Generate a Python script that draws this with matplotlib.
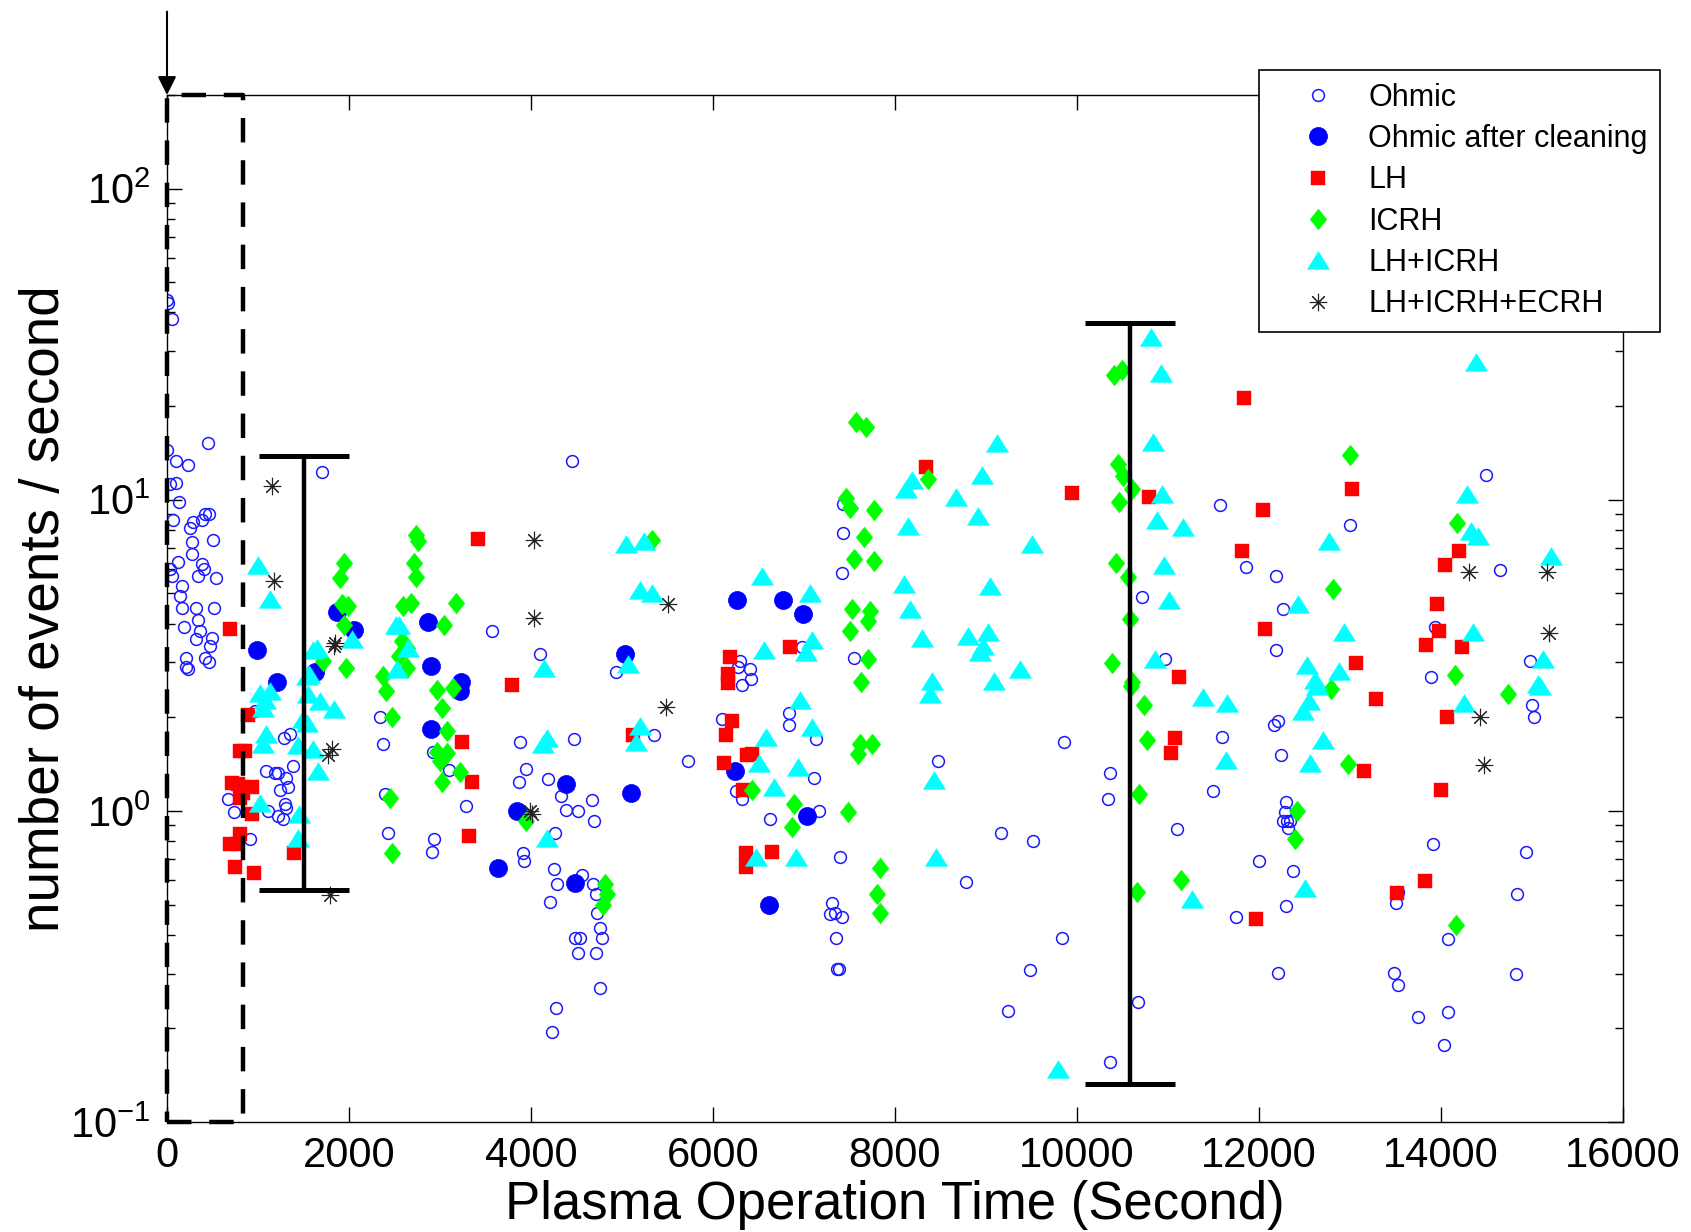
import matplotlib
matplotlib.use("Agg")
import matplotlib.pyplot as plt
from matplotlib.path import Path
from matplotlib.ticker import FixedLocator, NullFormatter, LogLocator

plt.rcParams['font.family'] = ['Liberation Sans', 'DejaVu Sans']
plt.rcParams['mathtext.fontset'] = 'custom'
plt.rcParams['mathtext.rm'] = 'Liberation Sans'
plt.rcParams['mathtext.it'] = 'Liberation Sans:italic'
plt.rcParams['mathtext.bf'] = 'Liberation Sans:bold'
plt.rcParams['axes.unicode_minus'] = False

# ---------------- data ----------------
ohmic_x = [0, 10, 60, 0, 450, 100, 230, 30, 100, 135, 70, 250, 290, 390, 420, 460, 510, 270, 270, 120,
           30, 50, 380, 410, 340, 535, 160, 140, 160, 320, 515, 340, 190, 360, 315, 490, 470, 420, 465, 210,
           210, 235,
           1700, 4450, 3570, 4100, 2340, 2370, 3880, 4470, 2920, 3100, 1090, 1190, 1220, 1310, 1350, 1290,
           1380, 1330, 1240, 670, 740, 1300, 1310, 1110, 1220, 1270, 910, 970, 3290, 2425, 2400, 2935, 2915,
           3945, 3870, 4190, 4330, 4385, 4520, 4670, 4690, 4260, 3910, 3920, 4250, 4290, 4560, 4680, 4710,
           4210, 4720, 4760, 4480, 4540, 4780, 4520, 4710, 4760, 4270, 4230,
           4930, 5350, 5720, 6300, 6280, 6410, 6415, 6320, 6975, 6095, 6830, 6830, 7130, 7110, 6250, 6320,
           6630, 7160, 7400, 7310, 7290, 7340, 7420, 7430, 7415, 7550, 8470, 9860, 9170, 9520, 8780, 7425,
           7350, 7360, 7380, 9830, 9480, 9240, 10360, 10670,
           11750, 12300, 12210, 13530, 13505, 13480, 13530, 14080, 13745, 14080, 14030, 14840, 14825,
           14490, 11570, 12995, 11860, 12190, 14650, 10720, 12260, 12190, 13930, 10970, 13890, 14975, 15005,
           15025, 12210, 12165, 11590, 12240, 11500, 10365, 10345, 12300, 12265, 12305, 12340, 12290, 12320,
           11100, 13910, 14930, 11995, 12370]
ohmic_y = [44, 43, 38, 14.5, 15.2, 13.3, 12.9, 11.2, 11.3, 9.8, 8.6, 8.1, 8.5, 8.6, 9.0, 9.0, 7.4, 7.3, 6.7, 6.3,
           6.0, 5.7, 6.2, 6.0, 5.7, 5.6, 5.3, 4.9, 4.5, 4.5, 4.5, 4.1, 3.9, 3.8, 3.56, 3.6, 3.4, 3.1, 3.0, 3.1,
           2.9, 2.85,
           12.3, 13.3, 3.8, 3.2, 2.0, 1.64, 1.67, 1.7, 1.55, 1.35, 1.34, 1.32, 1.32, 1.28, 1.77, 1.72,
           1.39, 1.19, 1.17, 1.09, 0.99, 1.05, 1.02, 1.0, 0.96, 0.94, 0.81, 2.1, 1.04, 0.85, 1.13, 0.81, 0.74,
           1.36, 1.24, 1.27, 1.12, 1.01, 1.0, 1.08, 0.93, 0.85, 0.73, 0.69, 0.65, 0.58, 0.62, 0.58, 0.54,
           0.51, 0.47, 0.42, 0.39, 0.39, 0.39, 0.35, 0.35, 0.27, 0.232, 0.195,
           2.8, 1.75, 1.45, 3.04, 2.9, 2.86, 2.66, 2.53, 3.36, 1.98, 2.06, 1.89, 1.70, 1.28, 1.16, 1.09,
           0.94, 1.0, 0.71, 0.506, 0.466, 0.47, 0.457, 7.8, 5.8, 3.1, 1.45, 1.66, 0.85, 0.80, 0.59, 9.7,
           0.39, 0.31, 0.31, 0.39, 0.307, 0.228, 0.156, 0.243,
           0.457, 0.493, 0.302, 0.547, 0.506, 0.302, 0.275, 0.388, 0.218, 0.225, 0.177, 0.54, 0.298,
           12.0, 9.6, 8.3, 6.1, 5.7, 5.95, 4.87, 4.44, 3.3, 3.9, 3.07, 2.7, 3.03, 2.19,
           2.0, 1.95, 1.89, 1.73, 1.51, 1.16, 1.32, 1.09, 1.07, 0.93, 0.93, 0.93, 0.99, 0.88,
           0.875, 0.78, 0.74, 0.69, 0.64]

clean_x = [985, 1205, 1865, 2055, 1626, 2872, 2898, 3227, 3220, 2898, 4385, 3843, 3641, 4484, 5033, 5095,
           6260, 6766, 6985, 6242, 7029, 6616]
clean_y = [3.29, 2.6, 4.35, 3.81, 2.8, 4.05, 2.92, 2.6, 2.43, 1.83, 1.22, 1.0, 0.655, 0.585, 3.2, 1.14,
           4.76, 4.76, 4.3, 1.34, 0.96, 0.50]

lh_x = [692, 894, 857, 802, 711, 784, 930, 839, 802, 930, 802, 692, 773, 747, 956, 1399, 3421, 3245, 3795,
        3355, 3319,
        6187, 6168, 6168, 6846, 6212, 6143, 6425, 6370, 6124, 6326, 5117, 6362, 6648, 6362, 8341, 9949,
        11834, 10791, 13019, 12040, 11817, 14197, 14046, 13954, 12062, 13975, 13840, 14228, 13062, 11123,
        13289, 14065, 11077, 11035, 13155, 13999, 13823, 13512, 11967]
lh_y = [3.83, 2.03, 1.56, 1.56, 1.23, 1.22, 1.19, 1.14, 1.10, 0.975, 0.84, 0.78, 0.78, 0.66, 0.63, 0.73, 7.5,
        1.66, 2.54, 1.24, 0.83,
        3.12, 2.76, 2.57, 3.36, 1.94, 1.75, 1.52, 1.51, 1.43, 1.165, 1.75, 0.73, 0.74, 0.66, 12.7, 10.5,
        21.3, 10.2, 10.8, 9.3, 6.83, 6.83, 6.15, 4.64, 3.84, 3.79, 3.42, 3.36, 2.98, 2.69,
        2.29, 2.0, 1.72, 1.53, 1.34, 1.17, 0.597, 0.545, 0.45]

icrh_x = [2733, 2762, 1945, 1901, 2718, 2733, 1927, 1993, 2597, 2678, 3176, 1945, 3044, 2586, 2634, 1718,
          1964, 2553, 2634, 2377, 2407, 2970, 3139, 3018, 3073, 2970, 3073, 3000, 3220, 3018, 2469, 2451,
          2469, 3945,
          7571, 7681, 10407, 10491, 5334, 7461, 7505, 7769, 8359, 7659, 7549, 7773, 7531, 7725, 7706, 7505,
          7706, 7626, 7615, 7744, 7597, 6425, 6890, 6865, 7480, 7835, 7799, 7835, 4813, 4832, 4795,
          10454, 10506, 10610, 10463, 10430, 10559, 10581, 10387, 10610, 10589, 10741, 10766, 10682, 11144,
          10661, 12998, 14175, 12818, 14155, 14740, 12797, 12978, 12419, 12393, 14170]
icrh_y = [7.7, 7.35, 6.27, 5.6, 6.27, 5.63, 4.62, 4.55, 4.55, 4.66, 4.66, 3.97, 3.95, 3.51, 3.34, 3.03,
          2.87, 3.14, 2.88, 2.71, 2.43, 2.44, 2.49, 2.14, 1.80, 1.55, 1.53, 1.45, 1.33, 1.24, 2.0, 1.10,
          0.73, 0.93,
          17.8, 17.1, 25.2, 26.2, 7.4, 10.1, 9.4, 9.3, 11.7, 7.57, 6.45, 6.34, 4.46, 4.4, 4.07, 3.78,
          3.08, 2.6, 1.64, 1.64, 1.52, 1.17, 1.05, 0.89, 0.99, 0.653, 0.54, 0.47, 0.58, 0.54, 0.50,
          13.0, 11.96, 10.8, 9.8, 6.24, 5.65, 4.14, 2.99, 2.6, 2.52, 2.19, 1.69, 1.13, 0.60,
          0.55, 13.9, 8.44, 5.16, 2.74, 2.37, 2.47, 1.41, 1.0, 0.815, 0.43]

lhicrh_x = [1003, 1132, 2517, 2553, 2029, 1608, 1645, 2652, 2524, 1535, 1564, 1022, 1132, 1077, 1058, 1553,
            1681, 1835, 1498, 1535, 1088, 1052, 1443, 1608, 1663, 1022, 1454, 1443, 4146, 4172, 4128, 4172,
            5044, 5245, 5198, 5326, 6541, 7066, 5069, 6564, 7091, 7022, 6956, 5198, 5154, 6579, 7085, 6509,
            6931, 6674, 6469, 6912,
            9117, 8183, 8121, 8952, 8670, 8909, 9506, 8140, 8100, 9044, 8165, 8293, 8799, 9019, 8970, 8934,
            9374, 8403, 8384, 9088, 8432, 8451, 9795,
            10812, 14387, 10925, 10833, 10939, 14290, 10875, 11169, 14332, 14408, 12767, 15206, 10959, 12431,
            11010, 12932, 14353, 10854, 12524, 12881, 15123, 12615, 12641, 15068, 15089, 11388, 11653, 12552,
            12481, 14248, 12709, 11641, 12566, 12502, 11260]
lhicrh_y = [6.16, 4.81, 3.97, 3.97, 3.58, 3.28, 3.34, 3.34, 2.85, 2.71, 2.75, 2.40, 2.42, 2.27, 2.14, 2.37,
            2.25, 2.12, 1.97, 1.91, 1.76, 1.64, 1.63, 1.58, 1.34, 1.06, 0.98, 0.82, 2.88, 1.72, 1.64, 0.82,
            7.2, 7.35, 5.14, 5.01, 5.7, 5.01, 2.97, 3.3, 3.55, 3.24, 2.28, 1.87, 1.66, 1.73, 1.86, 1.43,
            1.38, 1.19, 0.71, 0.71,
            15.2, 11.6, 10.8, 12.0, 10.2, 8.9, 7.2, 8.25, 5.38, 5.3, 4.44, 3.6, 3.66, 3.76, 3.38, 3.24,
            2.85, 2.61, 2.37, 2.61, 1.26, 0.71, 0.148,
            33.3, 27.7, 25.6, 15.3, 10.4, 10.4, 8.6, 8.2, 7.94, 7.67, 7.39, 6.6, 6.19, 4.64,
            4.77, 3.75, 3.75, 3.07, 2.95, 2.82, 3.07, 2.63, 2.52, 2.56, 2.52, 2.32, 2.22, 2.26,
            2.10, 2.23, 1.69, 1.46, 1.43, 0.567, 0.52]

ecrh_x = [1157, 1176, 1846, 1830, 1810, 1773, 1791, 4036, 4033, 3989, 4008, 5509, 5483, 14311, 15160, 15186,
          14429, 14472]
ecrh_y = [11.1, 5.47, 3.47, 3.4, 1.58, 1.51, 0.537, 7.44, 4.17, 1.0, 0.975, 4.64, 2.16, 5.88, 5.88, 3.72,
          2.0, 1.40]

# range bars (x position, low, high, cap half width)
bar_x = [1510, 10585]
bar_lo = [0.557, 0.132]
bar_hi = [13.8, 37.0]
bar_half = [495, 495]

# dashed box region
box_x = [0, 830]
box_y = [0.1, 200]

xticks = [0, 2000, 4000, 6000, 8000, 10000, 12000, 14000, 16000]

# ---------------- figure ----------------
fig = plt.figure(figsize=(16.91, 12.32), dpi=100)
ax = fig.add_axes([0.09876, 0.08929, 0.8610, 0.8336])
ax.set_yscale('log')
ax.set_xlim(0, 16000)
ax.set_ylim(0.1, 200)

diamond = Path([(0, 1), (0.8, 0), (0, -1), (-0.8, 0), (0, 1)],
               [Path.MOVETO, Path.LINETO, Path.LINETO, Path.LINETO, Path.CLOSEPOLY])
triangle = Path([(0, 0.8), (1, -0.8), (-1, -0.8), (0, 0.8)],
                [Path.MOVETO, Path.LINETO, Path.LINETO, Path.CLOSEPOLY])

ax.plot(ohmic_x, ohmic_y, ls='none', marker='o', ms=8.5, mfc='none', mec='#1a1aff', mew=1.1, label='Ohmic')
ax.plot(clean_x, clean_y, ls='none', marker='o', ms=13, mfc='#0000ff', mec='#0000ff', mew=0.5,
        label='Ohmic after cleaning')
ax.plot(lh_x, lh_y, ls='none', marker='s', ms=9.5, mfc='#ff0000', mec='#ff0000', mew=0.3, label='LH')
ax.plot(icrh_x, icrh_y, ls='none', marker=diamond, ms=15, mfc='#00ff00', mec='#00ff00', mew=0.3, label='ICRH')
ax.plot(lhicrh_x, lhicrh_y, ls='none', marker=triangle, ms=16, mfc='#00ffff', mec='#00ffff', mew=0.3,
        label='LH+ICRH')
ax.plot(ecrh_x, ecrh_y, ls='none', marker=(8, 2, 0), ms=12.5, mec='#222222', mew=0.8, label='LH+ICRH+ECRH')

# range bars
ax.vlines(bar_x, bar_lo, bar_hi, colors='black', lw=3.2, zorder=6)
for bx, lo, hi, hw in zip(bar_x, bar_lo, bar_hi, bar_half):
    ax.hlines([lo, hi], bx - hw, bx + hw, colors='black', lw=3.6, zorder=6)

# dashed box
ax.plot([box_x[0], box_x[1], box_x[1], box_x[0], box_x[0]],
        [box_y[0], box_y[0], box_y[1], box_y[1], box_y[0]],
        color='black', lw=3.2, ls=(0, (5.5, 4.0)), zorder=7, clip_on=False)

# arrow above the start
ax.annotate('', xy=(0, 200), xycoords='data', xytext=(0, 60), textcoords='offset points',
            arrowprops=dict(arrowstyle='-|>', color='black', lw=1.5, mutation_scale=28,
                            shrinkA=0, shrinkB=0), annotation_clip=False)

# axes styling
ax.xaxis.set_major_locator(FixedLocator(xticks))
ax.set_xticklabels([str(t) for t in xticks])
ax.yaxis.set_major_locator(LogLocator(base=10, numticks=10))
ax.yaxis.set_minor_locator(LogLocator(base=10, subs=range(2, 10), numticks=20))
ax.yaxis.set_minor_formatter(NullFormatter())
ax.tick_params(which='both', direction='in', top=True, right=True, width=1.0, colors='black')
ax.tick_params(which='major', length=11, labelsize=30)
ax.tick_params(axis='x', which='major', pad=10)
ax.tick_params(axis='y', which='major', pad=12)
ax.tick_params(which='minor', length=5.5)
for sp in ax.spines.values():
    sp.set_linewidth(1.0)

ax.set_xlabel('Plasma Operation Time (Second)', fontsize=38)
ax.set_ylabel('number of events / second', fontsize=39.5)
ax.xaxis.set_label_coords(0.5, -0.056)
ax.yaxis.set_label_coords(-0.066, 0.5)

leg = ax.legend(loc='upper left', bbox_to_anchor=(0.750, 1.0243), fontsize=22, numpoints=1,
                frameon=True, fancybox=False, edgecolor='black', framealpha=1.0,
                borderpad=0.42, labelspacing=0.37, handlelength=3.0, handletextpad=0.15,
                borderaxespad=0.0)
leg.get_frame().set_linewidth(1.2)
leg.set_zorder(20)

fig.savefig('out.png', dpi=100)
